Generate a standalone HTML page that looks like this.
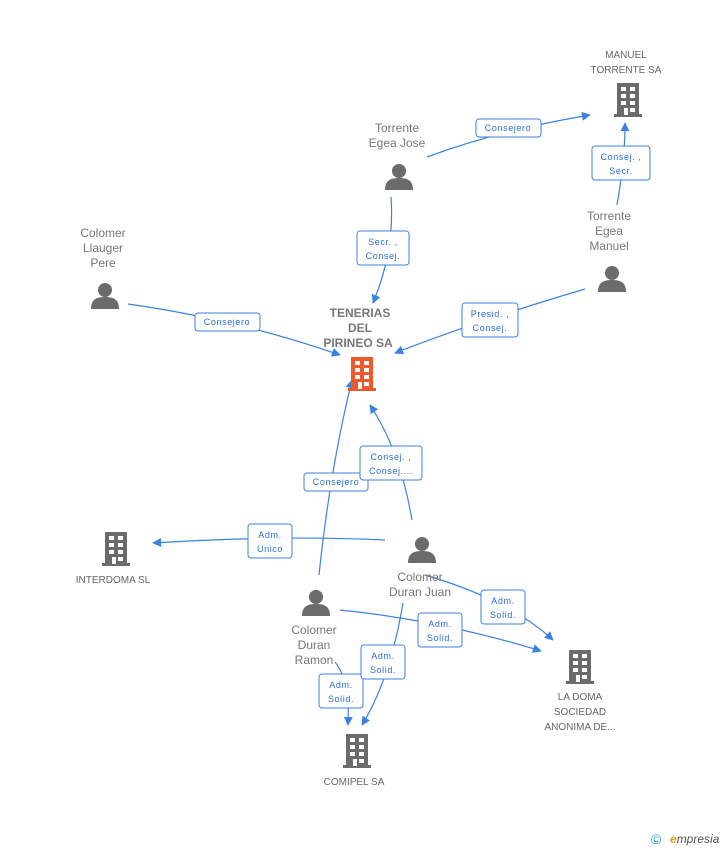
<!DOCTYPE html>
<html><head><meta charset="utf-8"><style>
body{margin:0;background:#fff;}
svg{display:block;font-family:"Liberation Sans",sans-serif;}
.n{font-size:12px;fill:#777;text-anchor:middle;}
.s{font-size:10px;fill:#666;text-anchor:middle;}
.e{stroke:#3b82e0;stroke-width:1.2;fill:none;}
.lb rect{fill:#fff;stroke:#3b82e0;stroke-width:1;}
.lb text{font-size:9px;fill:#2a6fd6;text-anchor:middle;letter-spacing:0.6px;}
</style></head><body>
<svg width="728" height="850" viewBox="0 0 728 850">
<defs>
<marker id="a" viewBox="0 0 10 10" refX="9" refY="5" markerWidth="9" markerHeight="9" orient="auto-start-reverse" markerUnits="userSpaceOnUse"><path d="M0,0L10,5L0,10z" fill="#3b82e0"/></marker>
<g id="b"><rect x="-11" y="-17" width="22" height="32" fill="currentColor"/><rect x="-14" y="14" width="28" height="3" fill="currentColor"/>
<g fill="#fff"><rect x="-7" y="-13" width="5" height="4"/><rect x="2" y="-13" width="5" height="4"/><rect x="-7" y="-6" width="5" height="4"/><rect x="2" y="-6" width="5" height="4"/><rect x="-7" y="1" width="5" height="4"/><rect x="2" y="1" width="5" height="4"/><rect x="-4" y="8" width="4" height="7"/><rect x="2" y="8" width="5" height="4"/></g></g>
<g id="p" fill="#6b6b6b"><circle cx="0" cy="-6" r="7"/><path d="M-14,13 C-14,3 -8,1 0,1 C8,1 14,3 14,13z"/></g>
</defs>
<g class="e" marker-end="url(#a)">
<path d="M391,197 Q395,250 373,303"/>
<path d="M427,157 Q500,130 590,115"/>
<path d="M617,205 Q625,160 625,123"/>
<path d="M128,304 Q240,320 340,355"/>
<path d="M585,289 Q480,320 395,353"/>
<path d="M319,575 Q330,470 352,380"/>
<path d="M412,520 Q400,450 370,405"/>
<path d="M385,540 Q280,535 153,543"/>
<path d="M425,575 Q510,600 553,640"/>
<path d="M340,610 Q440,620 541,651"/>
<path d="M335,662 Q350,680 348,725"/>
<path d="M403,603 Q390,680 362,725"/>
</g>
<g class="lb">
<rect x="357" y="231" width="52" height="34" rx="3"/><text x="383" y="245">Secr. ,</text><text x="383" y="259">Consej.</text>
<rect x="476" y="119" width="65" height="18" rx="3"/><text x="508" y="131">Consejero</text>
<rect x="592" y="146" width="58" height="34" rx="3"/><text x="621" y="160">Consej. ,</text><text x="621" y="174">Secr.</text>
<rect x="195" y="313" width="65" height="18" rx="3"/><text x="227" y="325">Consejero</text>
<rect x="462" y="303" width="56" height="34" rx="3"/><text x="490" y="317">Presid. ,</text><text x="490" y="331">Consej.</text>
<rect x="304" y="473" width="64" height="18" rx="3"/><text x="336" y="485">Consejero</text>
<rect x="360" y="446" width="62" height="34" rx="3"/><text x="391" y="460">Consej. ,</text><text x="391" y="474">Consej....</text>
<rect x="248" y="524" width="44" height="34" rx="3"/><text x="270" y="538">Adm.</text><text x="270" y="552">Unico</text>
<rect x="481" y="590" width="44" height="34" rx="3"/><text x="503" y="604">Adm.</text><text x="503" y="618">Solid.</text>
<rect x="418" y="613" width="44" height="34" rx="3"/><text x="440" y="627">Adm.</text><text x="440" y="641">Solid.</text>
<rect x="319" y="674" width="44" height="34" rx="3"/><text x="341" y="688">Adm.</text><text x="341" y="702">Solid.</text>
<rect x="361" y="645" width="44" height="34" rx="3"/><text x="383" y="659">Adm.</text><text x="383" y="673">Solid.</text>
</g>
<use href="#b" x="362" y="374" style="color:#f05a2a"/>
<use href="#b" x="628" y="100" style="color:#6b6b6b"/>
<use href="#b" x="116" y="549" style="color:#6b6b6b"/>
<use href="#b" x="580" y="667" style="color:#6b6b6b"/>
<use href="#b" x="357" y="751" style="color:#6b6b6b"/>
<use href="#p" x="399" y="177"/>
<use href="#p" x="105" y="296"/>
<use href="#p" x="612" y="279"/>
<use href="#p" x="422" y="550"/>
<use href="#p" x="316" y="603"/>
<g class="n" style="font-weight:bold;fill:#777"><text x="360" y="317">TENERIAS</text><text x="360" y="332">DEL</text><text x="358" y="347">PIRINEO SA</text></g>
<g class="s"><text x="626" y="58">MANUEL</text><text x="626" y="73">TORRENTE SA</text>
<text x="113" y="583">INTERDOMA SL</text>
<text x="580" y="700">LA DOMA</text><text x="580" y="715">SOCIEDAD</text><text x="580" y="730">ANONIMA DE...</text>
<text x="354" y="785">COMIPEL SA</text></g>
<g class="n"><text x="397" y="132">Torrente</text><text x="397" y="147">Egea Jose</text>
<text x="103" y="237">Colomer</text><text x="103" y="252">Llauger</text><text x="103" y="267">Pere</text>
<text x="609" y="220">Torrente</text><text x="609" y="235">Egea</text><text x="609" y="250">Manuel</text>
<text x="420" y="581">Colomer</text><text x="420" y="596">Duran Juan</text>
<text x="314" y="634">Colomer</text><text x="314" y="649">Duran</text><text x="314" y="664">Ramon</text></g>
<text x="651" y="844" style="font-size:14px;fill:#2a9fd6">©</text>
<text x="670" y="843" style="font-size:12px;fill:#555;font-style:italic"><tspan fill="#f0a020" font-weight="bold">e</tspan>mpresia</text>
</svg>
</body></html>
